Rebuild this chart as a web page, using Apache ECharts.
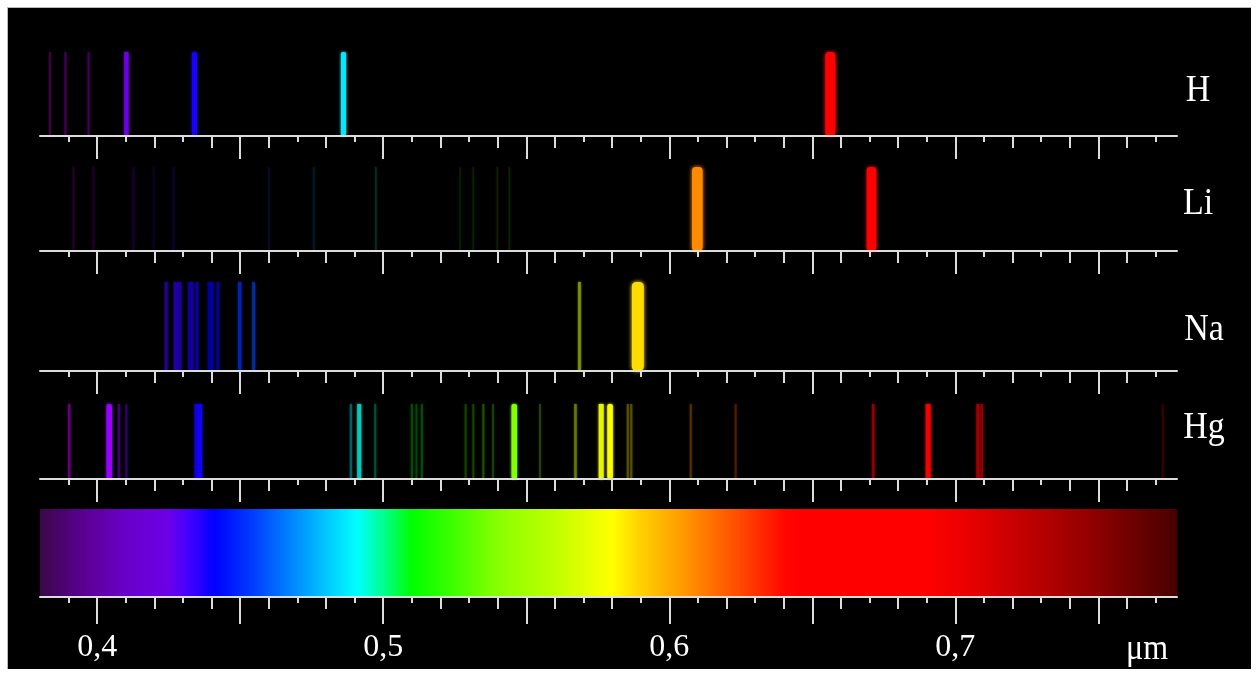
<!DOCTYPE html>
<html><head><meta charset="utf-8">
<script src="https://cdn.jsdelivr.net/npm/echarts@6/dist/echarts.min.js"></script>
<style>
html,body{margin:0;padding:0;background:#fff;}
#wrap{position:relative;width:1257px;height:675px;overflow:hidden;background:#fff;}
#bg{position:absolute;left:7px;top:7px;width:1243px;height:661px;background:#000;border-top:1px solid #b8b8b8;border-left:1px solid #b8b8b8;}
#main{position:absolute;left:0;top:0;width:1257px;height:675px;}
</style></head><body>
<div id="wrap"><div id="bg"></div><div id="main"></div></div>
<script>
// ---- data (wavelengths in micrometres, relative line intensity 0..1) ----
const hWavelengths  = [0.3835, 0.3889, 0.3970, 0.4102, 0.4340, 0.4861, 0.6563];
const hIntensity    = [0.18, 0.20, 0.22, 0.55, 0.62, 0.62, 0.95];

const liWavelengths = [0.3917, 0.3987, 0.4127, 0.4197, 0.4267, 0.4600, 0.4757, 0.4974, 0.5269, 0.5315, 0.5399, 0.5441, 0.6098, 0.6707];
const liIntensity   = [0.12, 0.12, 0.14, 0.10, 0.13, 0.10, 0.10, 0.12, 0.08, 0.08, 0.08, 0.08, 0.98, 0.92];

const naWavelengths = [0.4241, 0.4273, 0.4282, 0.4290, 0.4322, 0.4331, 0.4349, 0.4391, 0.4401, 0.4422, 0.4498, 0.4547, 0.5686, 0.5890];
const naIntensity   = [0.36, 0.40, 0.40, 0.36, 0.36, 0.40, 0.38, 0.36, 0.40, 0.36, 0.44, 0.38, 0.36, 1.05];

const hgWavelengths = [0.3902, 0.4042, 0.4076, 0.4102, 0.4347, 0.4358, 0.4887, 0.4916, 0.4972, 0.5100, 0.5116, 0.5135, 0.5288, 0.5315, 0.5350, 0.5384, 0.5458, 0.5548, 0.5672, 0.5762, 0.5793, 0.5855, 0.5867, 0.6075, 0.6232, 0.6713, 0.6905, 0.7079, 0.7092, 0.7725];
const hgIntensity   = [0.30, 0.65, 0.28, 0.25, 0.50, 0.60, 0.25, 0.50, 0.20, 0.20, 0.18, 0.20, 0.17, 0.17, 0.20, 0.17, 0.65, 0.17, 0.30, 0.60, 0.65, 0.22, 0.22, 0.20, 0.20, 0.35, 0.60, 0.40, 0.35, 0.15];

// continuous spectrum colour scale (wavelength -> colour)
const spectrumWavelengths = [0.380, 0.395, 0.410, 0.425, 0.433, 0.441, 0.455, 0.470, 0.480, 0.491, 0.500, 0.510, 0.525, 0.540, 0.560, 0.580, 0.590, 0.603, 0.615, 0.625, 0.640, 0.645, 0.690, 0.705, 0.725, 0.745, 0.7775];
const spectrumColors      = ['#3a0848', '#5a0090', '#6a00c8', '#6c00e8', '#3c00ff', '#0000ff', '#0040ff', '#0090ff', '#00c8ff', '#00ffff', '#00ff90', '#00ff00', '#40ff00', '#88ff00', '#c0ff00', '#ffff00', '#ffd000', '#ffa000', '#ff7000', '#ff4800', '#ff0800', '#ff0000', '#ff0000', '#e80000', '#c00000', '#980000', '#480000'];

// axis ticks
const oddTicks   = [0.39, 0.41, 0.43, 0.47, 0.49, 0.51, 0.53, 0.57, 0.59, 0.61, 0.63, 0.67, 0.69, 0.71, 0.73, 0.77];
const evenTicks  = [0.42, 0.44, 0.46, 0.48, 0.52, 0.54, 0.56, 0.58, 0.62, 0.64, 0.66, 0.68, 0.72, 0.74, 0.76];
const majorTicks = [0.40, 0.45, 0.50, 0.55, 0.60, 0.65, 0.70, 0.75];
const tickLabels = [0.4, 0.5, 0.6, 0.7];
const unitLabel = 'μm';
const elementNames = ['H', 'Li', 'Na', 'Hg'];

const AX_MIN = 0.38, AX_MAX = 0.7775;

function zip(a, b) { return a.map((v, i) => [v, b[i]]); }

function lineColor(lam, I) {
  const nm = lam * 1000; let r = 0, g = 0, b = 0;
  if (nm < 440) { r = (440 - nm) / 60; b = 1; }
  else if (nm < 490) { g = (nm - 440) / 50; b = 1; }
  else if (nm < 510) { g = 1; b = (510 - nm) / 20; }
  else if (nm < 580) { r = (nm - 510) / 70; g = 1; }
  else if (nm < 645) { r = 1; g = (645 - nm) / 65; }
  else { r = 1; }
  const k = Math.min(1, 1.6 * I);
  const c = v => Math.round(Math.max(0, Math.min(1, v * k)) * 255);
  return 'rgb(' + c(r) + ',' + c(g) + ',' + c(b) + ')';
}

function renderLine(params, api) {
  const lam = api.value(0), I = api.value(1);
  const top = api.coord([lam, 1]), bot = api.coord([lam, 0]);
  const w = 1.5 + 9.5 * I * I;
  const col = lineColor(lam, I);
  return {
    type: 'rect',
    shape: { x: top[0] - w / 2, y: top[1], width: w, height: bot[1] - top[1], r: w > 5 ? w * 0.35 : 0 },
    style: { fill: col, shadowBlur: 1.5 + w * 0.25, shadowColor: col }
  };
}

function renderSpectrum(params, api) {
  const v0 = api.value(0), v1 = api.value(1);
  const a = api.coord([v0, 1]), b = api.coord([v1, 0]);
  const stops = spectrumWavelengths.map((w, k) => ({
    offset: Math.min(1, Math.max(0, (w - v0) / (v1 - v0))), color: spectrumColors[k]
  }));
  return {
    type: 'rect',
    shape: { x: a[0], y: a[1], width: b[0] - a[0], height: b[1] - a[1] },
    style: { fill: new echarts.graphic.LinearGradient(0, 0, 1, 0, stops) }
  };
}

const rows = [
  { data: zip(hWavelengths, hIntensity),   top: 52,  height: 84, lx: 1198, ly: 91 },
  { data: zip(liWavelengths, liIntensity), top: 167, height: 84, lx: 1198, ly: 203.5 },
  { data: zip(naWavelengths, naIntensity), top: 282, height: 89, lx: 1204, ly: 330 },
  { data: zip(hgWavelengths, hgIntensity), top: 404, height: 75, lx: 1204, ly: 428 }
];

const grids = [], xAxes = [], yAxes = [], series = [];
const tickStyle = { color: '#dcdcdc', width: 2 };
const serif = '"Liberation Serif", "Times New Roman", serif';

function addAxes(gi, isBottom) {
  const base = {
    type: 'value', gridIndex: gi, min: AX_MIN, max: AX_MAX, position: 'bottom', z: 3,
    splitLine: { show: false }, axisLabel: { show: false },
    axisLine: { show: false, onZero: false }
  };
  xAxes.push(Object.assign({}, base, {
    axisLine: { show: true, onZero: false, lineStyle: { color: '#dcdcdc', width: 2 } },
    axisTick: { show: true, customValues: oddTicks, length: 6, lineStyle: tickStyle }
  }));
  xAxes.push(Object.assign({}, base, {
    axisTick: { show: true, customValues: evenTicks, length: 12, lineStyle: tickStyle }
  }));
  xAxes.push(Object.assign({}, base, {
    axisTick: { show: true, customValues: majorTicks, length: isBottom ? 27 : 23, lineStyle: tickStyle },
    axisLabel: isBottom ? {
      show: true, customValues: tickLabels, color: '#ffffff', fontFamily: serif, fontSize: 32, margin: 35,
      formatter: v => String(Math.round(v * 10) / 10).replace('.', ',')
    } : { show: false }
  }));
}

rows.forEach((r, i) => {
  grids.push({ left: 40, width: 1137, top: r.top, height: r.height });
  addAxes(i, false);
  yAxes.push({ type: 'value', gridIndex: i, min: 0, max: 1, show: false });
  series.push({
    type: 'custom', name: elementNames[i], xAxisIndex: 3 * i, yAxisIndex: i,
    data: r.data, encode: { x: 0 }, renderItem: renderLine, silent: true, clip: false
  });
});

// continuous spectrum
grids.push({ left: 40, width: 1137, top: 509, height: 88 });
addAxes(4, true);
yAxes.push({ type: 'value', gridIndex: 4, min: 0, max: 1, show: false });
series.push({
  type: 'custom', name: 'spectrum', xAxisIndex: 12, yAxisIndex: 4,
  data: [[AX_MIN, AX_MAX]], encode: { x: [0, 1] }, renderItem: renderSpectrum, silent: true
});

const texts = rows.map((r, i) => ({
  type: 'text', x: r.lx, y: r.ly, scaleY: 1.14,
  style: { text: elementNames[i], fill: '#ffffff', font: '34px ' + serif, align: 'center', verticalAlign: 'middle' }
}));
texts.push({
  type: 'text', x: 1147, y: 649, scaleY: 1.14,
  style: { text: unitLabel, fill: '#ffffff', font: '32px ' + serif, align: 'center', verticalAlign: 'middle' }
});

const chart = echarts.init(document.getElementById('main'), null, { renderer: 'canvas' });
chart.setOption({
  animation: false,
  backgroundColor: 'transparent',
  grid: grids, xAxis: xAxes, yAxis: yAxes, series: series,
  graphic: { elements: texts }
});
</script>
</body></html>
